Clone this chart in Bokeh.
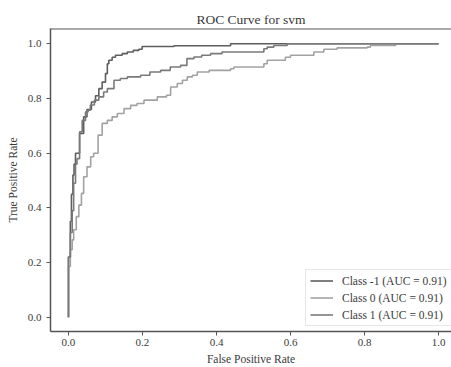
from bokeh.plotting import figure
from bokeh.embed import file_html
from bokeh.resources import INLINE
from bokeh.models import Range1d, FixedTicker, NumeralTickFormatter, Span, Legend, LegendItem

# ROC data
cls_m1_fpr = [0.0, 0.0, 0.005, 0.008, 0.012, 0.015, 0.019, 0.03, 0.041, 0.05, 0.062, 0.073, 0.082, 0.091, 0.1,
              0.105, 0.109, 0.118, 0.127, 0.145, 0.159, 0.175, 0.19, 0.199, 0.285, 0.438, 1.0]
cls_m1_tpr = [0.0, 0.15, 0.22, 0.35, 0.45, 0.52, 0.56, 0.6, 0.672, 0.733, 0.76, 0.787, 0.81, 0.836, 0.86,
              0.891, 0.927, 0.94, 0.951, 0.958, 0.964, 0.97, 0.976, 0.98, 0.99, 0.993, 1.0]

cls_0_fpr = [0.0, 0.0, 0.005, 0.01, 0.014, 0.021, 0.028, 0.035, 0.041, 0.05, 0.06, 0.068, 0.08, 0.091, 0.105,
             0.118, 0.132, 0.15, 0.168, 0.185, 0.204, 0.24, 0.265, 0.276, 0.294, 0.308, 0.321, 0.335, 0.348, 0.38,
             0.411, 0.438, 0.447, 0.528, 0.537, 0.586, 0.6, 0.663, 0.69, 0.726, 0.807, 0.816, 0.884, 1.0]
cls_0_tpr = [0.0, 0.05, 0.186, 0.247, 0.283, 0.32, 0.368, 0.41, 0.453, 0.514, 0.55, 0.587, 0.6, 0.666, 0.709,
             0.72, 0.733, 0.745, 0.763, 0.775, 0.782, 0.794, 0.806, 0.812, 0.842, 0.855, 0.867, 0.879, 0.885, 0.897,
             0.903, 0.903, 0.909, 0.915, 0.927, 0.94, 0.951, 0.958, 0.97, 0.98, 0.985, 0.988, 0.994, 1.0]

cls_1_fpr = [0.0, 0.0, 0.005, 0.01, 0.014, 0.019, 0.023, 0.03, 0.037, 0.046, 0.053, 0.059, 0.07, 0.082, 0.095,
             0.105, 0.123, 0.14, 0.159, 0.195, 0.22, 0.249, 0.275, 0.303, 0.32, 0.339, 0.36, 0.384, 0.415, 0.465,
             0.528, 0.537, 0.555, 0.591, 0.618, 1.0]
cls_1_tpr = [0.0, 0.04, 0.22, 0.31, 0.39, 0.49, 0.56, 0.58, 0.678, 0.72, 0.751, 0.757, 0.776, 0.794, 0.806,
             0.824, 0.836, 0.867, 0.873, 0.879, 0.885, 0.897, 0.903, 0.915, 0.921, 0.946, 0.952, 0.958, 0.964, 0.97,
             0.97, 0.982, 0.988, 0.994, 1.0, 1.0]

labels = ["Class -1 (AUC = 0.91)", "Class 0 (AUC = 0.91)", "Class 1 (AUC = 0.91)"]
colors = ["#5e5e5e", "#a2a2a2", "#7a7a7a"]
ticks = [0.0, 0.2, 0.4, 0.6, 0.8, 1.0]

FONT = "Liberation Serif"
TXT = "#3a3a3a"
AX = "#555555"

p = figure(width=451, height=367, output_backend="svg", toolbar_location=None,
           x_range=Range1d(-0.0486, 1.035), y_range=Range1d(-0.052, 1.056),
           min_border_left=50, min_border_right=0, min_border_top=28, min_border_bottom=35,
           title="ROC Curve for svm")
p.outline_line_color = None
p.xgrid.visible = False
p.ygrid.visible = False
p.background_fill_color = "white"
p.border_fill_color = "white"

p.title.align = "center"
p.title.text_font = FONT
p.title.text_font_size = "13.5px"
p.title.text_font_style = "normal"
p.title.text_color = TXT
p.title.standoff = 4

for ax in (p.xaxis[0], p.yaxis[0]):
    ax.ticker = FixedTicker(ticks=ticks)
    ax.formatter = NumeralTickFormatter(format="0.0")
    ax.major_label_text_font = FONT
    ax.major_label_text_font_size = "11px"
    ax.major_label_text_color = TXT
    ax.axis_label_text_font = FONT
    ax.axis_label_text_font_size = "11.5px"
    ax.axis_label_text_font_style = "normal"
    ax.axis_label_text_color = TXT
    ax.axis_line_color = AX
    ax.axis_line_width = 1.5
    ax.major_tick_line_color = AX
    ax.major_tick_out = 4
    ax.major_tick_in = 0
    ax.minor_tick_line_color = None

p.xaxis.axis_label = "False Positive Rate"
p.yaxis.axis_label = "True Positive Rate"
p.xaxis.major_label_standoff = 3
p.xaxis.axis_label_standoff = 4
p.yaxis.major_label_standoff = 5
p.yaxis.axis_label_standoff = 6

p.add_layout(Span(location=1.056, dimension="width", line_color=AX, line_width=2))

series = [(cls_m1_fpr, cls_m1_tpr), (cls_0_fpr, cls_0_tpr), (cls_1_fpr, cls_1_tpr)]
items = []
for (fx, ty), lab, col in zip(series, labels, colors):
    r = p.step(fx, ty, mode="before", line_color=col, line_width=1.6)
    items.append(LegendItem(label=lab, renderers=[r]))

legend = Legend(items=items, location=(255, 5))
legend.label_text_font = FONT
legend.label_text_font_size = "11.5px"
legend.label_text_color = TXT
legend.glyph_width = 23
legend.glyph_height = 13
legend.label_height = 13
legend.label_standoff = 9
legend.spacing = 4
legend.padding = 4
legend.margin = 0
legend.border_line_color = "#d0d0d0"
legend.border_line_width = 1
legend.background_fill_color = "white"
legend.background_fill_alpha = 0.9
p.add_layout(legend)

open("out.html", "w").write(file_html(p, INLINE))
